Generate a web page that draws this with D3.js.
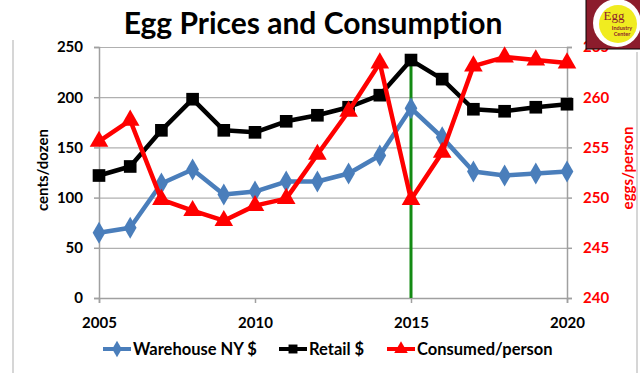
<!DOCTYPE html>
<html>
<head>
  <meta charset="utf-8">
  <style>
    body { margin: 0; background: #fff; }
    text { font-family: Lato, "Open Sans", sans-serif; font-weight: bold; font-variant-ligatures: none; }
    .grid line { stroke: #b0b0b0; stroke-width: 1.2; }
  </style>
  <script src="https://d3js.org/d3.v7.min.js"></script>
</head>
<body>
  <div id="chart"></div>
  <script>
    var years = [2005, 2006, 2007, 2008, 2009, 2010, 2011, 2012, 2013, 2014, 2015, 2016, 2017, 2018, 2019, 2020];
    var warehouse = [65, 70, 114, 128, 103, 106, 116, 116, 124, 142, 189, 160, 126, 122, 124, 126];
    var retail = [122, 131, 167, 198, 167, 165, 176, 182, 190, 202, 237, 218, 188, 186, 190, 193];
    var consumed = [255.6, 257.7, 249.8, 248.7, 247.7, 249.2, 249.9, 254.3, 258.6, 263.4, 249.8, 254.5, 263.1, 264.0, 263.7, 263.4];
    var leftTicks = [0, 50, 100, 150, 200, 250];
    var rightTicks = [240, 245, 250, 255, 260, 265];
    var xTicks = [2005, 2010, 2015, 2020];

    var width = 640, height = 373;
    var svg = d3.select("#chart").append("svg")
      .attr("width", width)
      .attr("height", height);

    var x = d3.scaleLinear().domain([2005, 2020]).range([99, 567]);
    var yL = d3.scaleLinear().domain([0, 250]).range([298, 47]);
    var yR = d3.scaleLinear().domain([240, 265]).range([298, 47]);

    // frame lines at the sides
    svg.append("line").attr("x1", 13).attr("x2", 13).attr("y1", 40).attr("y2", 373)
      .attr("stroke", "#c8c8c8").attr("stroke-width", 1.5);
    svg.append("line").attr("x1", 637).attr("x2", 637).attr("y1", 52).attr("y2", 373)
      .attr("stroke", "#c8c8c8").attr("stroke-width", 1.5);

    // title
    svg.append("text")
      .attr("x", 313).attr("y", 34)
      .attr("text-anchor", "middle")
      .attr("font-size", 30)
      .attr("fill", "#000")
      .text("Egg Prices and Consumption");

    // grid
    svg.append("g").attr("class", "grid")
      .attr("transform", "translate(99,0)")
      .call(d3.axisLeft(yL).tickValues(leftTicks).tickSize(-(567 - 99)).tickFormat(""))
      .call(function (g) { g.select(".domain").remove(); });

    // left axis
    var la = svg.append("g")
      .attr("transform", "translate(99,0)")
      .call(d3.axisLeft(yL).tickValues(leftTicks).tickSize(5).tickPadding(11));
    la.select(".domain").attr("stroke", "#a0a0a0").attr("stroke-width", 1.5);
    la.selectAll(".tick line").attr("stroke", "#a0a0a0").attr("stroke-width", 1.5);
    la.selectAll(".tick text").attr("font-size", 15).attr("fill", "#000")
      .style("font-family", "Lato, sans-serif").style("font-weight", "bold");

    // right axis
    var ra = svg.append("g")
      .attr("transform", "translate(567,0)")
      .call(d3.axisRight(yR).tickValues(rightTicks).tickSize(5).tickPadding(11));
    ra.select(".domain").attr("stroke", "#a0a0a0").attr("stroke-width", 1.5);
    ra.selectAll(".tick line").attr("stroke", "#a0a0a0").attr("stroke-width", 1.5);
    ra.selectAll(".tick text").attr("font-size", 15).attr("fill", "#ff0000")
      .style("font-family", "Lato, sans-serif").style("font-weight", "bold");

    // bottom axis
    var ba = svg.append("g")
      .attr("transform", "translate(0,298)")
      .call(d3.axisBottom(x).tickValues(xTicks).tickFormat(d3.format("d")).tickSize(5).tickPadding(14));
    ba.select(".domain").attr("stroke", "#a0a0a0").attr("stroke-width", 1.5);
    ba.selectAll(".tick line").attr("stroke", "#a0a0a0").attr("stroke-width", 1.5);
    ba.selectAll(".tick text").attr("font-size", 15).attr("fill", "#000")
      .style("font-family", "Lato, sans-serif").style("font-weight", "bold");

    // axis titles
    svg.append("text")
      .attr("transform", "translate(48,170) rotate(-90)")
      .attr("text-anchor", "middle")
      .attr("font-size", 15)
      .attr("fill", "#000")
      .text("cents/dozen");
    svg.append("text")
      .attr("transform", "translate(633,168) rotate(-90)")
      .attr("text-anchor", "middle")
      .attr("font-size", 15)
      .attr("fill", "#ff0000")
      .text("eggs/person");

    // 2015 marker line
    var i2015 = years.indexOf(2015);
    svg.append("line")
      .attr("x1", x(2015)).attr("x2", x(2015))
      .attr("y1", yL(0)).attr("y2", yL(retail[i2015]))
      .attr("stroke", "#138a13").attr("stroke-width", 3);

    function drawSeries(values, yScale, color, symbol, size) {
      var line = d3.line()
        .x(function (d, i) { return x(years[i]); })
        .y(function (d) { return yScale(d); });
      svg.append("path")
        .datum(values)
        .attr("d", line)
        .attr("fill", "none")
        .attr("stroke", color)
        .attr("stroke-width", 4.5)
        .attr("stroke-linejoin", "round");
      svg.append("g").selectAll("path")
        .data(values)
        .enter().append("path")
        .attr("transform", function (d, i) { return "translate(" + x(years[i]) + "," + yScale(d) + ")"; })
        .attr("d", d3.symbol().type(symbol).size(size))
        .attr("fill", color);
    }

    drawSeries(warehouse, yL, "#4a7ebb", d3.symbolDiamond, 140);
    drawSeries(retail, yL, "#000000", d3.symbolSquare, 160);
    drawSeries(consumed, yR, "#ff0000", d3.symbolTriangle, 150);

    // legend
    var legendItems = [
      { name: "Warehouse NY $", color: "#4a7ebb", symbol: d3.symbolDiamond, x: 103 },
      { name: "Retail $", color: "#000000", symbol: d3.symbolSquare, x: 279 },
      { name: "Consumed/person", color: "#ff0000", symbol: d3.symbolTriangle, x: 387 }
    ];
    var lg = svg.append("g").selectAll("g")
      .data(legendItems)
      .enter().append("g")
      .attr("transform", function (d) { return "translate(" + d.x + ",349)"; });
    lg.append("line")
      .attr("x1", 0).attr("x2", 28)
      .attr("stroke", function (d) { return d.color; })
      .attr("stroke-width", 4);
    lg.append("path")
      .attr("transform", "translate(14,0)")
      .attr("d", function (d) { return d3.symbol().type(d.symbol).size(80)(); })
      .attr("fill", function (d) { return d.color; });
    lg.append("text")
      .attr("x", 30).attr("y", 6)
      .attr("font-size", 16.5)
      .attr("fill", "#000")
      .text(function (d) { return d.name; });

    // logo
    var logo = svg.append("g");
    logo.append("rect").attr("x", 586).attr("y", -2).attr("width", 56).attr("height", 51)
      .attr("fill", "#8c1c2c").attr("stroke", "#000").attr("stroke-width", 1);
    logo.append("ellipse").attr("cx", 617).attr("cy", 23).attr("rx", 24).attr("ry", 24)
      .attr("fill", "#fff");
    logo.append("circle").attr("cx", 618).attr("cy", 24).attr("r", 19)
      .attr("fill", "#f0ec20");
    logo.append("text").attr("x", 614).attr("y", 20).attr("text-anchor", "middle")
      .attr("font-size", 13).attr("fill", "#8c1c2c")
      .style("font-family", "'Liberation Serif', serif").style("font-weight", "normal")
      .text("Egg");
    logo.append("text").attr("x", 622).attr("y", 30).attr("text-anchor", "middle")
      .attr("font-size", 5.5).attr("fill", "#8c1c2c").text("Industry");
    logo.append("text").attr("x", 622).attr("y", 36).attr("text-anchor", "middle")
      .attr("font-size", 5.5).attr("fill", "#8c1c2c").text("Center");
  </script>
</body>
</html>
